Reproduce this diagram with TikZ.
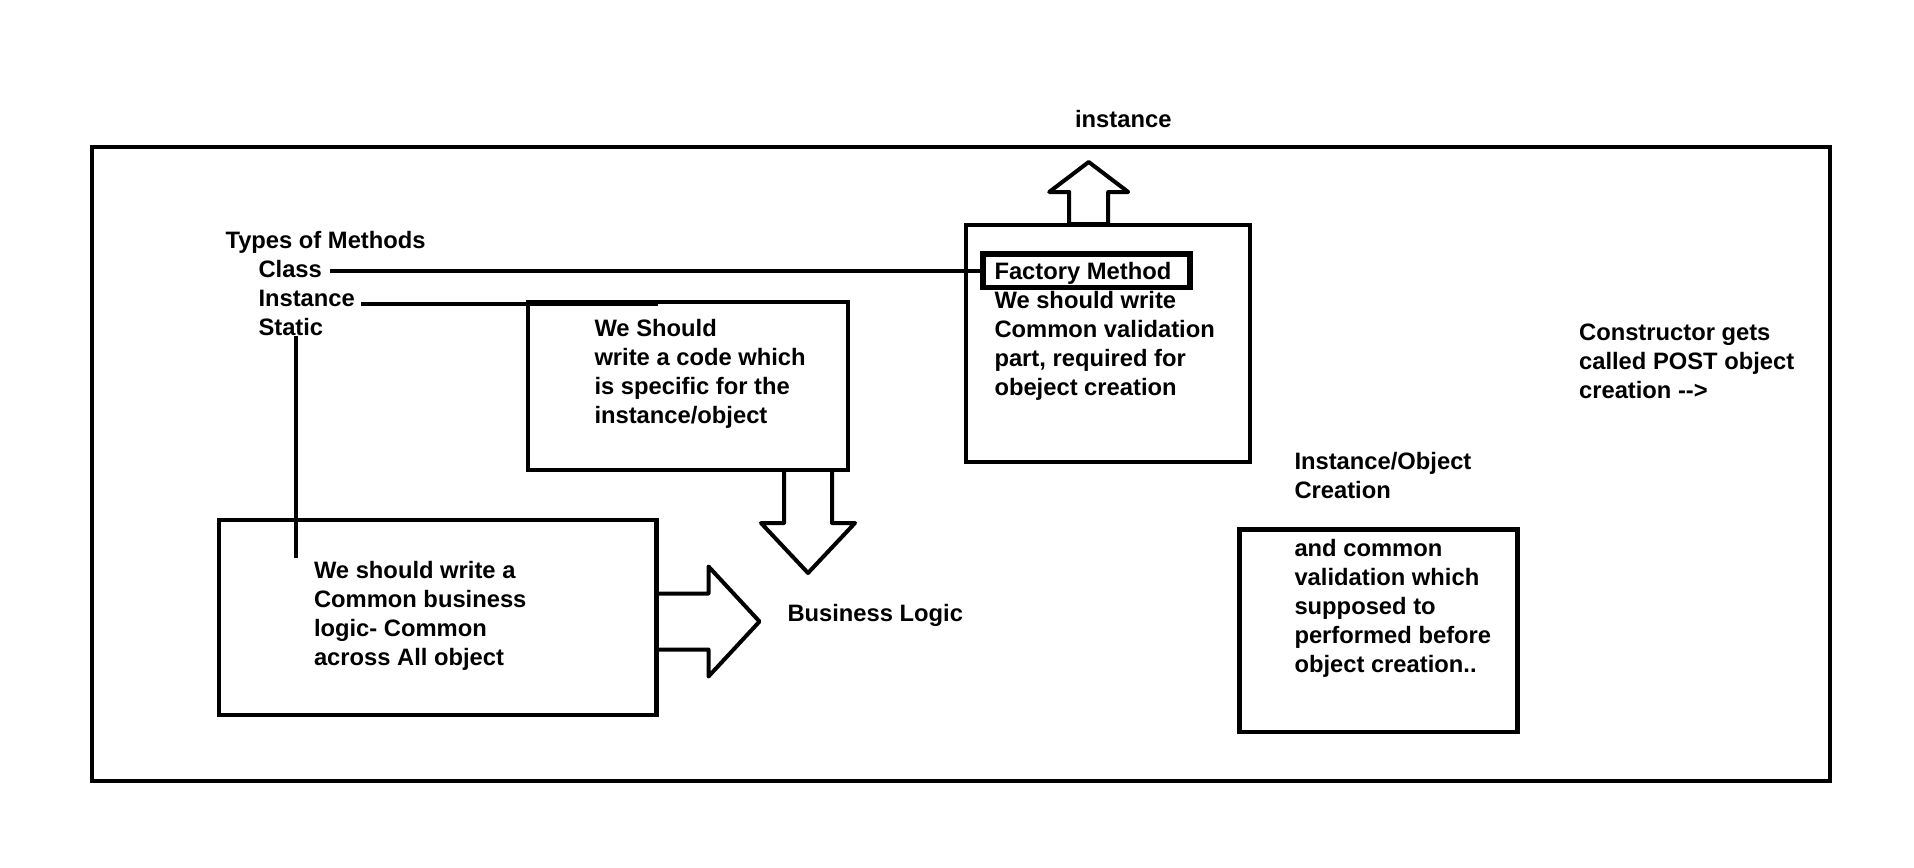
\documentclass[tikz,border=0pt]{standalone}
\usepackage{fontspec}
\setmainfont{Liberation Sans}
\usetikzlibrary{positioning}

\begin{document}
\begin{tikzpicture}[
                  x = 0.4pt,
                  y = -0.4pt,
  every node/.style = {font=\bfseries\fontsize{9.5}{11.6}\selectfont, inner sep=0pt, align=left},
          box/.style = {draw, line width=1.8pt},
          txt/.style = {anchor=base west},
         link/.style = {draw, line width=1.6pt},
        block/.style = {draw, line width=1.6pt, line join=round},
                   ]
\useasboundingbox (0,0) rectangle (1914,867);

% boxes
\node[box, minimum width=695.2pt, minimum height=253.6pt] (outer) at (961,464) {};
\node[box, minimum width=128pt, minimum height=67.2pt] (spec) at (688,386) {};
\node[box, minimum width=113.6pt, minimum height=94.8pt] (factory) at (1108,343.5) {};
\node[box, line width=2.2pt, minimum width=82.8pt, minimum height=13.4pt] (fmbox) at (1086.5,270.7) {};
\node[box, minimum width=175pt, minimum height=78pt] (common) at (437.75,617.5) {};
\node[box, minimum width=111.2pt, minimum height=81pt] (valid) at (1378.4,630.5) {};

% texts (multi-line: at the last baseline)
\node[txt] (types) at (225,248) {Types of Methods};
\node[txt] (cls)   at (258,277) {Class};
\node[txt] (inst)  at (258,306) {Instance};
\node[txt] (stat)  at (258,335) {Static};
\node[txt] (spectxt) at (594,423.7) {We Should\\write a code which\\is specific for the\\instance/object};
\node[txt] (fmtxt) at (994,279.3) {Factory Method};
\node[txt] (factorytxt) at (994,395.3) {We should write\\Common validation\\part, required for\\obeject creation};
\node[txt] (commontxt) at (313.5,665) {We should write a\\Common business\\logic- Common\\across All object};
\node[txt] (bizlogic) at (787,621.7) {Business Logic};
\node[txt] (insttop) at (1074.6,127.3) {instance};
\node[txt] (creation) at (1294,498.3) {Instance/Object\\Creation};
\node[txt] (validtxt) at (1294,672) {and common\\validation which\\supposed to\\performed before\\object creation..};
\node[txt] (ctor) at (1578.6,398.3) {Constructor gets\\called POST object\\creation -\kern0pt-\kern0pt>};

% links
\coordinate (instEnd) at (658,304.3);
\coordinate (statEnd) at (296.4,558);
\draw[link] (fmbox.west -| cls.east) ++(8,0) -- (fmbox.west);
\draw[link] (inst.east |- instEnd) ++(6,0) -- (instEnd);
\draw[link] (statEnd |- stat.south) -- (statEnd);

% block arrows
\coordinate (dn) at (808,470);
\coordinate (rt) at (656.5,621.5);
\coordinate (up) at (1088.7,224);
\draw[block] (dn) ++(-24,0) -- ++(0,53) -- ++(-23,0) -- ++(47,50) -- ++(47,-50) -- ++(-23,0) -- ++(0,-53);
\draw[block] (rt) ++(0,-28) -- ++(52,0) -- ++(0,-27) -- ++(51,55) -- ++(-51,55) -- ++(0,-27) -- ++(-52,0);
\draw[block] (up) ++(-19.5,0) -- ++(0,-32) -- ++(-20,0) -- ++(39.5,-30) -- ++(39.5,30) -- ++(-20,0) -- ++(0,32) -- cycle;
\end{tikzpicture}
\end{document}
